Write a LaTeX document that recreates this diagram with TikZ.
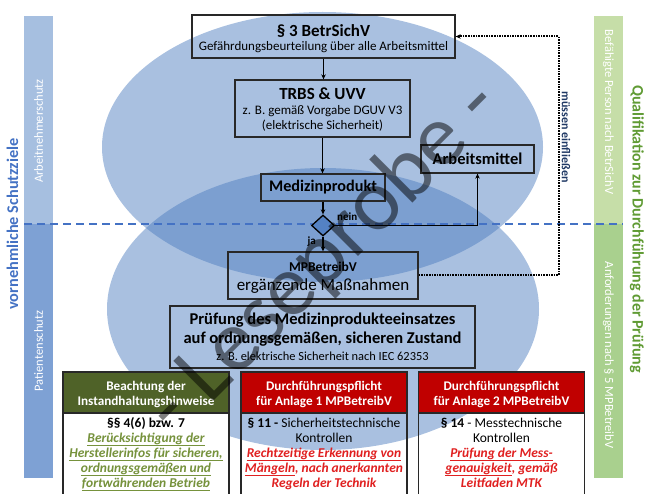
\documentclass[tikz,border=0pt]{standalone}
\usepackage{fontspec}
\setmainfont{Carlito}
\usetikzlibrary{arrows.meta,shapes.geometric}
\definecolor{ellc}{RGB}{75,123,190}
\definecolor{barA}{RGB}{166,191,224}
\definecolor{barB}{RGB}{126,161,212}
\definecolor{barC}{RGB}{198,222,168}
\definecolor{barD}{RGB}{169,208,142}
\definecolor{dashc}{RGB}{68,114,196}
\definecolor{olivehd}{RGB}{79,98,40}
\definecolor{olivetx}{RGB}{118,146,60}
\definecolor{hred}{RGB}{192,0,0}
\definecolor{tred}{RGB}{224,32,32}
\definecolor{navyt}{RGB}{31,56,100}
\definecolor{qgreen}{RGB}{96,155,52}
\definecolor{framec}{RGB}{40,40,40}
\definecolor{diac}{RGB}{84,130,196}
\newcommand{\fsz}[1]{\fontsize{#1}{#1}\selectfont}
\begin{document}
\begin{tikzpicture}[x=1pt,y=-1pt,
  frame/.style={draw=framec, line width=1.3pt, inner sep=0pt},
  txt/.style={inner sep=0pt, anchor=base},
  conn/.style={draw=black, line width=1.3pt, -{Stealth[length=5pt,width=4.5pt]}},
  vtxt/.style={inner sep=0pt, anchor=center},
  hdr/.style={draw=framec, line width=1.2pt, inner sep=0pt, minimum width=166pt, minimum height=41pt},
  bdy/.style={draw=framec, line width=1.2pt, inner sep=0pt, minimum width=166pt, minimum height=90pt},
  htxt/.style={txt, text=white, font=\fsz{13.2}\bfseries},
  btxt/.style={txt, font=\fsz{13.5}},
]
\useasboundingbox (0,0) rectangle (648,494);

% side bars
\fill[barA] (24,16) rectangle (53,224);
\fill[barB] (24,224) rectangle (53,478);
\fill[barC] (594,16) rectangle (623,224);
\fill[barD] (594,224) rectangle (623,478);

% ellipses
\fill[ellc, fill opacity=0.48] (322.5,147) ellipse [x radius=220.5, y radius=135];
\fill[ellc, fill opacity=0.48] (323,309) ellipse [x radius=216, y radius=141];

% side texts
\node[vtxt, rotate=90, text=dashc, font=\fsz{16.3}\bfseries] (vs) at (12.5,224) {vornehmliche Schutzziele};
\node[vtxt, rotate=90, text=white, font=\fsz{12.5}] (an) at (38.5,131) {Arbeitnehmerschutz};
\node[vtxt, rotate=90, text=white, font=\fsz{12.5}] (pa) at (38.5,351) {Patientenschutz};
\node[vtxt, rotate=-90, text=white, font=\fsz{12.5}] (bp) at (608.5,112) {Befähigte Person nach BetrSichV};
\node[vtxt, rotate=-90, text=white, font=\fsz{12.5}] (af) at (608.5,355) {Anforderungen nach § 5 MPBetreibV};
\node[vtxt, rotate=-90, text=qgreen, font=\fsz{16}\bfseries] (ql) at (637,229) {Qualifikation zur Durchführung der Prüfung};
\node[vtxt, rotate=-90, text=navyt, font=\fsz{12}\bfseries] (me) at (566,137) {müssen einfließen};

% dashed separator
\draw[dashc, line width=1.5pt, dash pattern=on 8pt off 5pt] (24,224) -- (623,224);

% upper boxes
\node[frame, minimum width=263pt, minimum height=43pt] (b1) at (323.5,36.5) {};
\node[txt, font=\fsz{17}\bfseries] (t1a) at (323.5,37) {§ 3 BetrSichV};
\node[txt, font=\fsz{13}] (t1b) at (323.5,51) {Gefährdungsbeurteilung über alle Arbeitsmittel};

\node[frame, minimum width=175pt, minimum height=57pt] (b2) at (322.5,108.5) {};
\node[txt, font=\fsz{17}\bfseries] (t2a) at (322.5,100) {TRBS \& UVV};
\node[txt, font=\fsz{13}] (t2b) at (322.5,114.5) {z. B. gemäß Vorgabe DGUV V3};
\node[txt, font=\fsz{13}] (t2c) at (322.5,130) {(elektrische Sicherheit)};

\node[frame, minimum width=113pt, minimum height=28pt, font=\fsz{16.5}\bfseries] (arb) at (477.5,159) {Arbeitsmittel};
\node[frame, minimum width=124pt, minimum height=27pt, font=\fsz{16.2}\bfseries] (med) at (323,187.5) {Medizinprodukt};

\node[diamond, draw=black, fill=diac, line width=1.3pt, minimum width=23pt, minimum height=21pt, inner sep=0pt] (dia) at (323,225.5) {};
\node[txt, font=\fsz{11}\bfseries, anchor=base west] (nein) at (337,220.5) {nein};
\node[txt, font=\fsz{11}\bfseries, anchor=base east] (ja) at (316,245) {ja};

\node[frame, minimum width=190pt, minimum height=47pt] (mpb) at (323,275.5) {};
\node[txt, font=\fsz{13.5}\bfseries] (t4a) at (323,271.5) {MPBetreibV};
\node[txt, font=\fsz{17}] (t4b) at (323,290.5) {ergänzende Maßnahmen};

\node[frame, minimum width=305pt, minimum height=62pt] (pr) at (322.5,337) {};
\node[txt, font=\fsz{16.5}\bfseries] (t5a) at (322.5,325) {Prüfung des Medizinprodukteeinsatzes};
\node[txt, font=\fsz{16.5}\bfseries] (t5b) at (322.5,344) {auf ordnungsgemäßen, sicheren Zustand};
\node[txt, font=\fsz{12.4}] (t5c) at (322.5,360.5) {z. B. elektrische Sicherheit nach IEC 62353};

% connectors
\draw[conn] (b1.south) -- (b1.south |- b2.north);
\draw[conn] (b2.south) -- (b2.south |- med.north);
\draw[conn] (med.south) -- (dia.north);
\draw[conn] (dia.east) -| (arb.south);
\draw[conn] (dia.south) -- (dia.south |- mpb.north);
\draw[black, line width=2pt, dash pattern=on 1.6pt off 1pt, -{Stealth[length=5pt,width=4.5pt]}] (mpb.east) -- ++(140,0) |- (b1.east);

% bottom boxes
\begin{scope}
\clip (0,0) rectangle (648,494);
\node[bdy, fill=white] (g1) at (146,458) {};
\node[bdy] (r1) at (324,458) {};
\node[bdy] (r2) at (501.5,458) {};
\end{scope}
\node[hdr, fill=olivehd] (gh) at (146,392.5) {};
\node[hdr, fill=hred] (rh1) at (324,392.5) {};
\node[hdr, fill=hred] (rh2) at (501.5,392.5) {};

\node[htxt] (gh1) at (146,390) {Beachtung der};
\node[htxt] (gh2) at (146,405) {Instandhaltungshinweise};
\node[htxt] (rh1a) at (324,390) {Durchführungspflicht};
\node[htxt] (rh1b) at (324,405) {für Anlage 1 MPBetreibV};
\node[htxt] (rh2a) at (501.5,390) {Durchführungspflicht};
\node[htxt] (rh2b) at (501.5,405) {für Anlage 2 MPBetreibV};

\node[btxt] (g1a) at (146,427) {\bfseries §§ 4(6) bzw. 7};
\node[btxt, text=olivetx, font=\fsz{13.5}\bfseries\itshape] (g1b) at (146,442) {\underline{Berücksichtigung der}};
\node[btxt, text=olivetx, font=\fsz{13.5}\bfseries\itshape] (g1c) at (146,457) {\underline{Herstellerinfos für sicheren,}};
\node[btxt, text=olivetx, font=\fsz{13.5}\bfseries\itshape] (g1d) at (146,472) {\underline{ordnungsgemäßen und}};
\node[btxt, text=olivetx, font=\fsz{13.5}\bfseries\itshape] (g1e) at (146,487) {\underline{fortwährenden Betrieb}};

\node[btxt] (r1a) at (324,427) {\textbf{§ 11 -} Sicherheitstechnische};
\node[btxt] (r1b) at (324,442) {Kontrollen};
\node[btxt, text=tred, font=\fsz{13.5}\bfseries\itshape] (r1c) at (324,457) {\underline{Rechtzeitige Erkennung von}};
\node[btxt, text=tred, font=\fsz{13.5}\bfseries\itshape] (r1d) at (324,472) {\underline{Mängeln}, nach anerkannten};
\node[btxt, text=tred, font=\fsz{13.5}\bfseries\itshape] (r1e) at (324,487) {Regeln der Technik};

\node[btxt] (r2a) at (501.5,427) {\textbf{§ 14} - Messtechnische};
\node[btxt] (r2b) at (501.5,442) {Kontrollen};
\node[btxt, text=tred, font=\fsz{13.5}\bfseries\itshape] (r2c) at (501.5,457) {\underline{Prüfung der Mess-}};
\node[btxt, text=tred, font=\fsz{13.5}\bfseries\itshape] (r2d) at (501.5,472) {\underline{genauigkeit}, gemäß};
\node[btxt, text=tred, font=\fsz{13.5}\bfseries\itshape] (r2e) at (501.5,487) {Leitfaden MTK};

% watermark
\node[rotate=45, text=black, opacity=0.5, font=\fsz{88}, inner sep=0pt] (wm) at (324,258) {- Leseprobe -};
\end{tikzpicture}
\end{document}
